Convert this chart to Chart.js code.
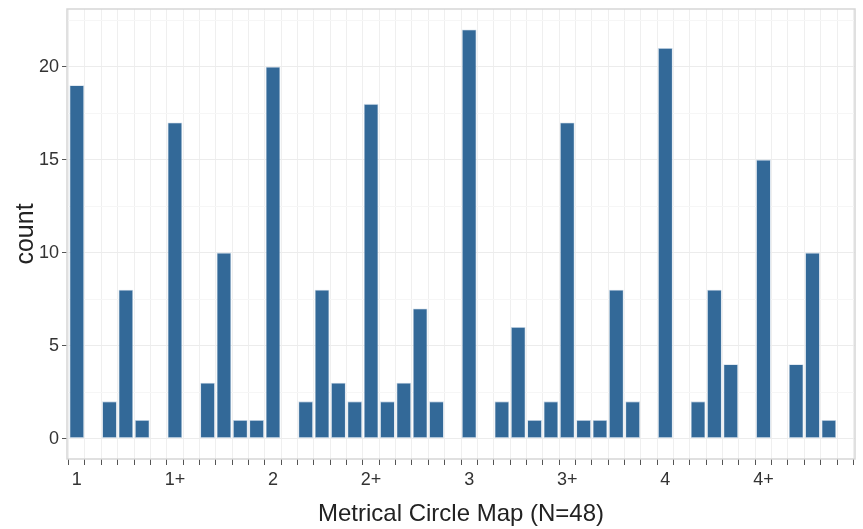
<!DOCTYPE html>
<html>
<head>
<meta charset="utf-8">
<script src="https://cdn.jsdelivr.net/npm/chart.js@4"></script>
<style>
    html, body { margin: 0; padding: 0; background: #fff; }
    #wrap { width: 863px; height: 529px; }
</style>
</head>
<body>
<div id="wrap"><canvas id="circleMapChart"></canvas></div>
<script>
// tick labels shown every 6 positions on the circle map
const majorLabels = ["1", "1+", "2", "2+", "3", "3+", "4", "4+"];
const stepsPerLabel = 6;

// one count per position (48 positions)
const counts = [
    19, 0, 2, 8, 1, 0,
    17, 0, 3, 10, 1, 1,
    20, 0, 2, 8, 3, 2,
    18, 2, 3, 7, 2, 0,
    22, 0, 2, 6, 1, 2,
    17, 1, 1, 8, 2, 0,
    21, 0, 2, 8, 4, 0,
    15, 0, 4, 10, 1, 0,
];

const yTicks = [0, 5, 10, 15, 20];
const yMinorTicks = [2.5, 7.5, 12.5, 17.5, 22.5];

const fontFamily = "'Liberation Sans', Arial, Helvetica, sans-serif";

// grey frame round the panel, like ggplot's theme
const panelBorder = {
    id: "panelBorder",
    afterDraw(chart) {
        const { ctx, chartArea } = chart;
        ctx.save();
        ctx.strokeStyle = "#d6d6d6";
        ctx.lineWidth = 1.5;
        ctx.strokeRect(chartArea.left, chartArea.top,
            chartArea.right - chartArea.left, chartArea.bottom - chartArea.top);
        ctx.restore();
    },
};

document.addEventListener("DOMContentLoaded", () => {
    const canvas = document.getElementById("circleMapChart");

    new Chart(canvas, {
        type: "bar",
        data: {
            datasets: [
                {
                    label: "count",
                    data: counts.map((c, i) => ({ x: i, y: c })),
                    backgroundColor: "rgb(51, 105, 152)",
                    borderColor: "rgba(200, 215, 230, 0.9)",
                    borderWidth: 0.8,
                    borderSkipped: false,
                    barPercentage: 0.9,
                    categoryPercentage: 1,
                },
            ],
        },
        options: {
            responsive: true,
            maintainAspectRatio: false,
            animation: false,
            layout: {
                padding: { left: 0, right: 8, top: 9, bottom: 0 },
            },
            plugins: {
                legend: { display: false },
                tooltip: { enabled: false },
            },
            scales: {
                x: {
                    type: "linear",
                    offset: false,
                    min: -0.6,
                    max: counts.length - 1 + 0.6,
                    afterBuildTicks: (scale) => {
                        scale.ticks = counts.map((_, i) => ({ value: i }));
                    },
                    afterFit: (scale) => {
                        scale.height = 70;
                        scale.paddingLeft = 0;
                        scale.paddingRight = 0;
                    },
                    ticks: {
                        autoSkip: false,
                        maxRotation: 0,
                        padding: 4,
                        color: "#333",
                        font: { family: fontFamily, size: 18 },
                        callback: (value) =>
                            value % stepsPerLabel === 0 ? majorLabels[value / stepsPerLabel] : "",
                    },
                    grid: {
                        color: "#efefef",
                        lineWidth: 1,
                        tickColor: "#555",
                        tickLength: 6,
                        tickWidth: 1,
                    },
                    border: { display: false },
                    title: {
                        display: true,
                        text: "Metrical Circle Map (N=48)",
                        color: "#222",
                        font: { family: fontFamily, size: 24 },
                        padding: { top: 1, bottom: 0 },
                    },
                },
                y: {
                    min: -1.1,
                    max: 23.1,
                    afterBuildTicks: (scale) => {
                        scale.ticks = yTicks.concat(yMinorTicks)
                            .sort((a, b) => a - b)
                            .map((v) => ({ value: v }));
                    },
                    afterFit: (scale) => {
                        scale.width = 67;
                        scale.paddingTop = 0;
                        scale.paddingBottom = 0;
                    },
                    ticks: {
                        padding: 3,
                        color: "#333",
                        font: { family: fontFamily, size: 18 },
                        callback: (value) => (yTicks.includes(value) ? value : ""),
                    },
                    grid: {
                        color: (ctx) =>
                            ctx.tick && yTicks.includes(ctx.tick.value) ? "#ececec" : "#f6f6f6",
                        lineWidth: 1,
                        tickColor: (ctx) =>
                            ctx.tick && yTicks.includes(ctx.tick.value) ? "#555" : "rgba(0,0,0,0)",
                        tickLength: 5,
                    },
                    border: { display: false },
                    title: {
                        display: true,
                        text: "count",
                        color: "#222",
                        font: { family: fontFamily, size: 25 },
                        padding: { top: 11, bottom: 0 },
                    },
                },
            },
        },
        plugins: [panelBorder],
    });
});
</script>
</body>
</html>
